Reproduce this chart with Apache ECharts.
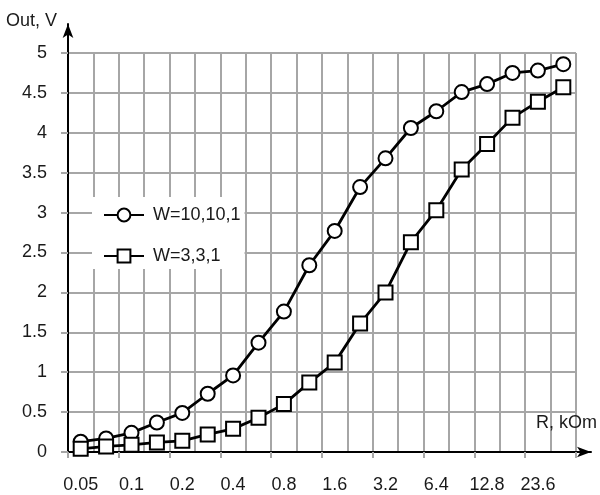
<!DOCTYPE html>
<html>
<head>
<meta charset="utf-8">
<script src="https://cdn.jsdelivr.net/npm/echarts@6/dist/echarts.min.js"></script>
<style>
  html, body { margin: 0; padding: 0; background: #fff; }
  #chart { width: 600px; height: 495px; }
</style>
</head>
<body>
<div id="chart"></div>
<script>
// R, kOm (only every other one is labelled)
var r_values = ['0.05', '0.07', '0.1', '0.14', '0.2', '0.28', '0.4', '0.57', '0.8', '1.1',
                '1.6', '2.3', '3.2', '4.5', '6.4', '9.1', '12.8', '18', '23.6', '33'];
// Out, V
var out_w10 = [0.13, 0.17, 0.24, 0.37, 0.49, 0.73, 0.96, 1.37, 1.76, 2.34,
               2.77, 3.32, 3.68, 4.06, 4.27, 4.51, 4.61, 4.75, 4.78, 4.86];
var out_w3 = [0.04, 0.07, 0.09, 0.12, 0.14, 0.22, 0.29, 0.43, 0.60, 0.87,
              1.12, 1.61, 2.00, 2.63, 3.03, 3.54, 3.86, 4.19, 4.39, 4.57];

var gridColor = '#a6a6a6';
var textColor = '#1a1a1a';
var font = 'Liberation Sans, Arial, sans-serif';

var myChart = echarts.init(document.getElementById('chart'));

var option = {
    animation: false,
    backgroundColor: '#fff',
    textStyle: { fontFamily: font },
    grid: [
        { left: 68, right: 24, top: 53, bottom: 43 },
        // only for the axis lines with arrows
        { left: 68, right: 9, top: 24, bottom: 43 }
    ],
    legend: {
        orient: 'vertical',
        left: 92,
        top: 197,
        backgroundColor: '#fff',
        padding: [9, 4, 4, 11],
        itemWidth: 40,
        itemHeight: 16,
        itemGap: 23,
        textStyle: { fontSize: 18, color: textColor, fontFamily: font, padding: [0, 0, 0, 4] },
        data: ['W=10,10,1', 'W=3,3,1']
    },
    xAxis: [{
        type: 'category',
        gridIndex: 0,
        data: r_values,
        boundaryGap: true,
        name: 'R, kOm',
        nameLocation: 'end',
        nameGap: 21,
        nameTextStyle: {
            fontSize: 18, color: textColor, fontFamily: font,
            align: 'right', verticalAlign: 'bottom', padding: [0, 0, 20, 0]
        },
        axisLine: { show: false },
        axisTick: { show: true, length: 6, lineStyle: { color: gridColor, width: 2 } },
        axisLabel: { interval: 1, fontSize: 18, color: textColor, margin: 24, fontFamily: font },
        splitLine: { show: true, interval: 0, lineStyle: { color: gridColor, width: 2 } }
    }, {
        type: 'value',
        gridIndex: 1,
        min: 0, max: 1,
        axisLine: { show: true, symbol: ['none', 'arrow'], symbolSize: [8, 14], lineStyle: { color: '#000', width: 2 } },
        axisTick: { show: false },
        axisLabel: { show: false },
        splitLine: { show: false }
    }],
    yAxis: [{
        type: 'value',
        gridIndex: 0,
        min: 0,
        max: 5,
        interval: 0.5,
        name: 'Out, V',
        nameLocation: 'end',
        nameGap: 23,
        nameTextStyle: {
            fontSize: 18, color: textColor, fontFamily: font,
            align: 'right', verticalAlign: 'bottom', padding: [0, 11, 0, 0]
        },
        axisLine: { show: false },
        axisTick: { show: true, length: 7, lineStyle: { color: gridColor, width: 2 } },
        axisLabel: { fontSize: 18, color: textColor, margin: 21, fontFamily: font },
        splitLine: { show: true, lineStyle: { color: gridColor, width: 2 } }
    }, {
        type: 'value',
        gridIndex: 1,
        min: 0, max: 1,
        axisLine: { show: true, symbol: ['none', 'arrow'], symbolSize: [8, 14], lineStyle: { color: '#000', width: 2 } },
        axisTick: { show: false },
        axisLabel: { show: false },
        splitLine: { show: false }
    }],
    series: [{
        name: 'W=10,10,1',
        type: 'line',
        xAxisIndex: 0,
        yAxisIndex: 0,
        data: out_w10,
        symbol: 'circle',
        symbolSize: 14,
        z: 5,
        lineStyle: { color: '#000', width: 2.8 },
        itemStyle: { color: '#fff', borderColor: '#000', borderWidth: 2 }
    }, {
        name: 'W=3,3,1',
        type: 'line',
        xAxisIndex: 0,
        yAxisIndex: 0,
        data: out_w3,
        symbol: 'rect',
        symbolSize: 14,
        z: 5,
        lineStyle: { color: '#000', width: 2.8 },
        itemStyle: { color: '#fff', borderColor: '#000', borderWidth: 2 }
    }]
};

if (option && typeof option === "object") {
    myChart.setOption(option, true);
}
</script>
</body>
</html>
